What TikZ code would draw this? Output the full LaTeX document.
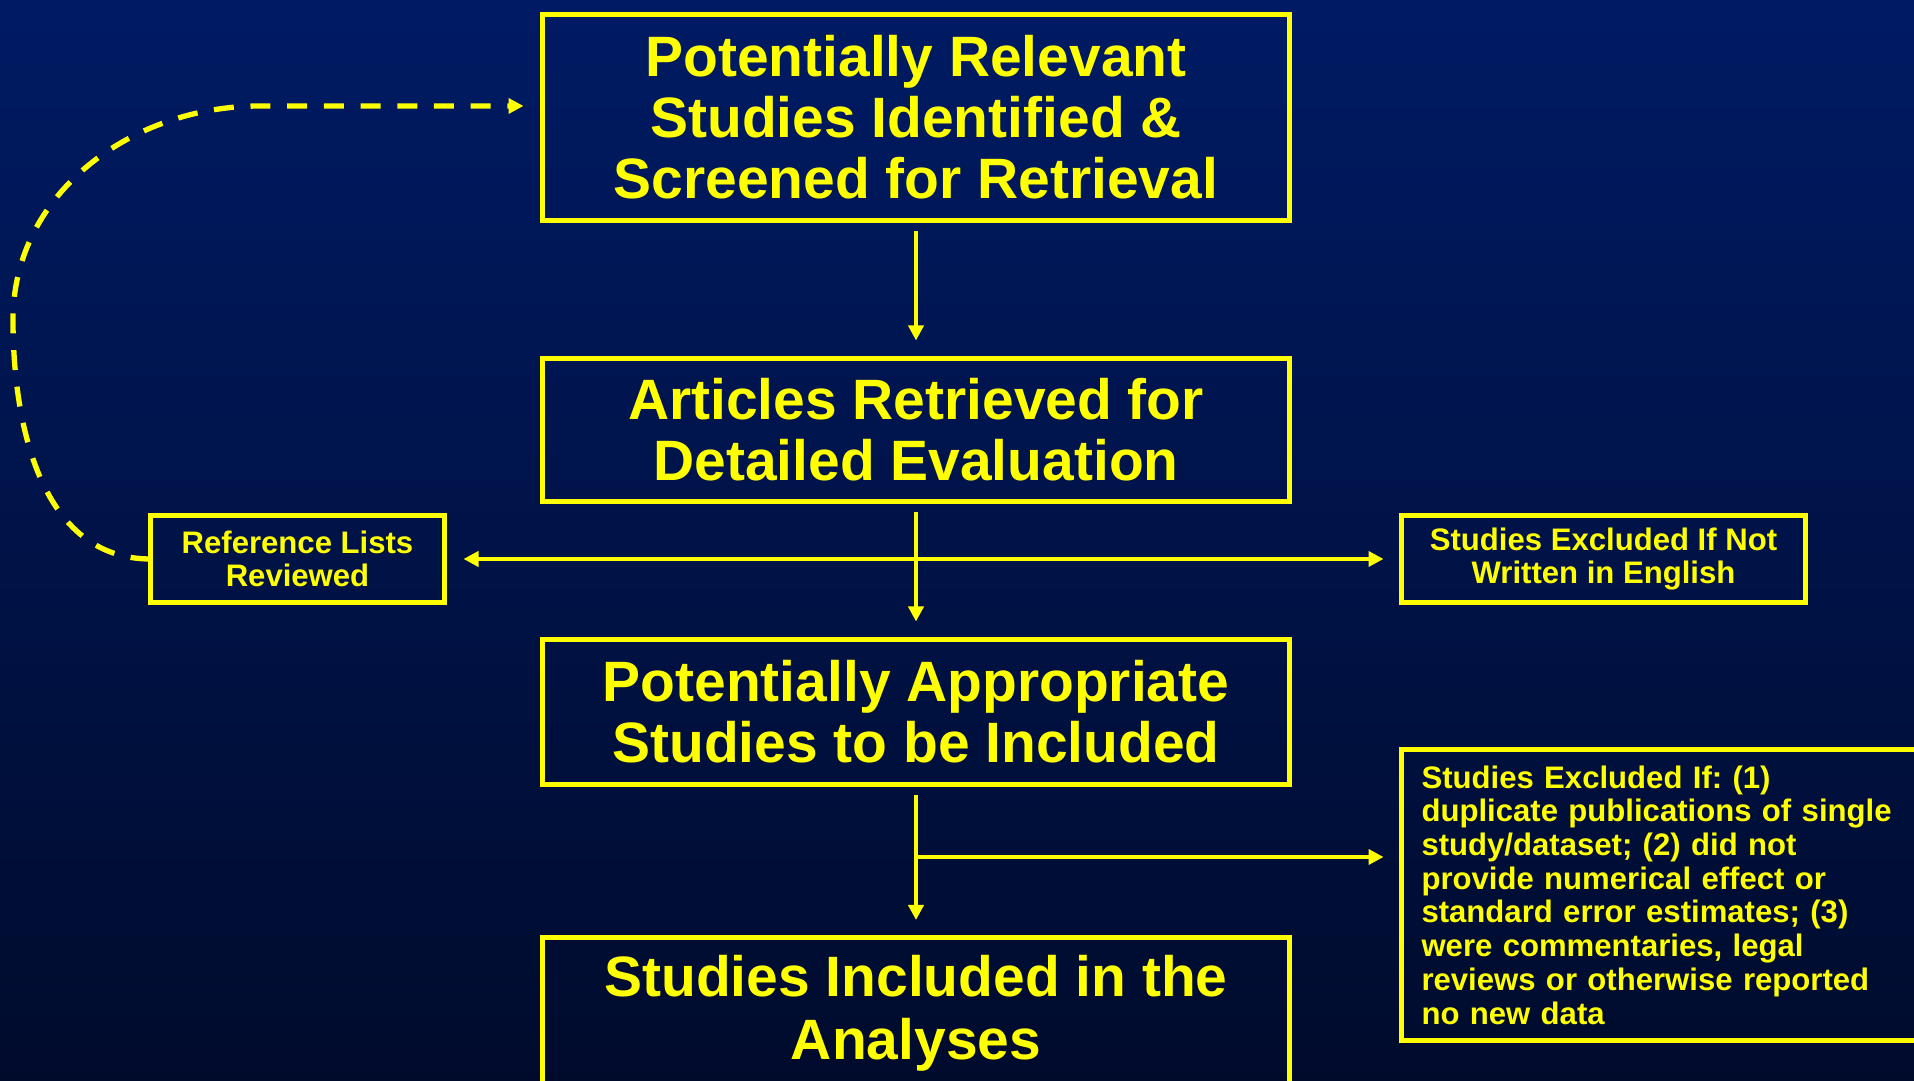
\documentclass[tikz,border=0pt]{standalone}
\usepackage{fontspec}
\setmainfont{Liberation Sans}
\usetikzlibrary{arrows.meta}
\definecolor{slidetop}{RGB}{0,27,100}
\definecolor{slidemid}{RGB}{0,22,82}
\definecolor{slidebottom}{RGB}{0,11,44}
\definecolor{flowyellow}{RGB}{255,255,0}
\frenchspacing

\begin{document}
\begin{tikzpicture}[
    bigbox/.style={draw=flowyellow, line width=0.05cm, text=flowyellow, align=center,
      font=\bfseries\fontsize{16.2}{17.4}\selectfont, minimum width=7.47cm,
      inner sep=0pt, outer sep=0pt},
    sidebox/.style={draw=flowyellow, line width=0.05cm, text=flowyellow, align=center,
      font=\bfseries\fontsize{8.85}{9.6}\selectfont, minimum height=0.87cm,
      inner sep=0pt, outer sep=0pt},
    tip/.style={-{Triangle[length=0.15cm, width=0.15cm]}},
    flow/.style={draw=flowyellow, line width=0.045cm, tip, shorten <=0.11cm, shorten >=0.18cm},
    loopback/.style={draw=flowyellow, line width=0.053cm, tip, dash pattern=on 0.2cm off 0.167cm,
      shorten >=0.19cm}
  ]
  % Background
  \useasboundingbox (0,0) rectangle (19.14,-10.81);
  \clip (0,0) rectangle (19.14,-10.81);
  \shade[top color=slidetop, middle color=slidemid, bottom color=slidebottom]
    (0,0) rectangle (19.14,-10.81);

  % Define the nodes
  \node[bigbox, minimum height=2.06cm] (retrieval) at (9.16,-1.175)
    {Potentially Relevant\\Studies Identified \&\\Screened for Retrieval};
  \node[bigbox, minimum height=1.43cm] (articles) at (9.16,-4.30)
    {Articles Retrieved for\\Detailed Evaluation};
  \node[bigbox, minimum height=1.45cm] (appropriate) at (9.16,-7.12)
    {Potentially Appropriate\\Studies to be Included};
  \node[bigbox, minimum height=1.50cm] (included) at (9.16,-10.13)
    {Studies Included in the\\[0.02cm]Analyses};

  \node[sidebox, minimum width=2.94cm] (reflists) at (2.975,-5.59)
    {Reference Lists\\Reviewed};
  \node[sidebox, minimum width=4.04cm] (english) at (16.035,-5.59)
    {Studies Excluded If Not\\Written in English};
  \node[sidebox, align=left, anchor=north west, text width=5.2cm, inner xsep=0.2cm,
    minimum height=2.91cm] (excluded) at (14.015,-7.495)
    {Studies Excluded If: (1)\\duplicate publications of single\\study/dataset; (2) did not\\provide numerical effect or\\standard error estimates; (3)\\were commentaries, legal\\reviews or otherwise reported\\no new data};

  \coordinate (split) at (9.16,-8.57);
  \coordinate (loopleft) at (0.13,-3.2);
  \coordinate (looptop) at (2.6,-1.06);

  % Draw the edges
  \draw[flow] (retrieval) -- (articles);
  \draw[flow] (articles) -- (appropriate);
  \draw[flow, {Triangle[length=0.15cm, width=0.15cm]}-{Triangle[length=0.15cm, width=0.15cm]},
    shorten <=0.19cm] (reflists.east) -- (english.west);
  \draw[flow] (appropriate) -- (included);
  \draw[flow, shorten <=0pt] (split) -- (split -| excluded.west);
  \draw[loopback] (reflists.west) to[out=180, in=-90] (loopleft)
    to[out=90, in=180] (looptop) -- ([yshift=0.115cm]retrieval.west);
\end{tikzpicture}
\end{document}
